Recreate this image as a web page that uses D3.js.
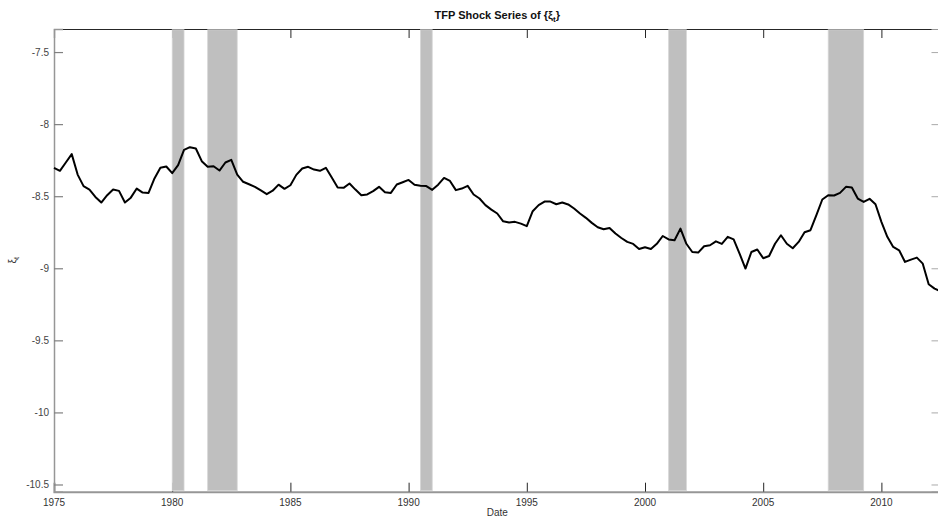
<!DOCTYPE html>
<html>
<head>
<meta charset="utf-8">
<script src="https://cdn.jsdelivr.net/npm/d3@7"></script>
<style>
  body { margin: 0; background: #fff; }
  text { font-family: "Liberation Sans", Arial, Helvetica, sans-serif; }
</style>
</head>
<body>
<svg id="chart" width="938" height="523"></svg>
<script>
// quarterly series, 1975Q1 onward
var startYear = 1975;
var xi = [
  -8.303, -8.324, -8.266, -8.208, -8.350, -8.430, -8.454, -8.505, -8.544, -8.493,
  -8.454, -8.463, -8.544, -8.510, -8.447, -8.475, -8.477, -8.377, -8.303, -8.294,
  -8.340, -8.285, -8.178, -8.160, -8.169, -8.257, -8.296, -8.292, -8.322, -8.266,
  -8.248, -8.350, -8.400, -8.417, -8.435, -8.460, -8.486, -8.462, -8.420, -8.449,
  -8.424, -8.352, -8.308, -8.296, -8.315, -8.324, -8.303, -8.370, -8.440, -8.442,
  -8.412, -8.454, -8.493, -8.488, -8.465, -8.435, -8.472, -8.477, -8.419, -8.403,
  -8.387, -8.420, -8.428, -8.430, -8.456, -8.420, -8.373, -8.394, -8.458, -8.447,
  -8.428, -8.488, -8.516, -8.562, -8.593, -8.620, -8.674, -8.683, -8.678, -8.690,
  -8.708, -8.604, -8.562, -8.537, -8.537, -8.556, -8.544, -8.557, -8.585, -8.620,
  -8.650, -8.685, -8.715, -8.729, -8.720, -8.759, -8.790, -8.817, -8.831, -8.866,
  -8.854, -8.866, -8.830, -8.776, -8.800, -8.806, -8.725, -8.830, -8.887, -8.891,
  -8.847, -8.840, -8.813, -8.831, -8.782, -8.800, -8.898, -9.002, -8.887, -8.870,
  -8.930, -8.915, -8.830, -8.771, -8.830, -8.861, -8.817, -8.750, -8.736, -8.632,
  -8.523, -8.493, -8.495, -8.477, -8.435, -8.440, -8.516, -8.540, -8.518, -8.556,
  -8.678, -8.782, -8.852, -8.875, -8.956, -8.940, -8.926, -8.968, -9.111, -9.141,
  -9.160
];
var recStart = [1980.0, 1981.5, 1990.5, 2001.0, 2007.75];
var recEnd   = [1980.5, 1982.75, 1991.0, 2001.75, 2009.25];
var xTicks = [1975, 1980, 1985, 1990, 1995, 2000, 2005, 2010];
var yTicks = [-10.5, -10, -9.5, -9, -8.5, -8, -7.5];

var svg = d3.select("#chart");
var padL = 54, padR = 940.5, padT = 29, padB = 491.7;

var x = d3.scaleLinear().domain([1975, 2012.5]).range([padL, padR]);
var y = d3.scaleLinear().domain([-10.55, -7.34]).range([padB, padT]);

var data = xi.map(function(v, i){ return {date: startYear + i * 0.25, value: v}; });

// top axis (ticks pointing in)
var topAxis = svg.append("g").attr("transform", "translate(0," + padT + ")")
  .call(d3.axisBottom(x).tickValues(xTicks).tickSize(9).tickFormat(""));
topAxis.select(".domain").attr("stroke", "#262626").attr("stroke-width", 1.2);
topAxis.selectAll(".tick line").attr("stroke", "#262626");

// bottom axis
var bottomAxis = svg.append("g").attr("transform", "translate(0," + padB + ")")
  .call(d3.axisTop(x).tickValues(xTicks).tickSize(9).tickFormat(""));
bottomAxis.select(".domain").attr("stroke", "#969696").attr("stroke-width", 2);
bottomAxis.selectAll(".tick line").attr("stroke", "#262626");
svg.append("g").selectAll("text").data(xTicks).enter().append("text")
  .attr("x", function(d){ return x(d); })
  .attr("y", padB + 14)
  .attr("text-anchor", "middle")
  .attr("font-size", 10)
  .attr("fill", "#333")
  .text(function(d){ return d; });

// recession bars sit over the tick marks, between the frame lines
svg.append("g").selectAll("rect").data(recStart).enter().append("rect")
  .attr("x", function(d){ return x(d); })
  .attr("width", function(d, i){ return x(recEnd[i]) - x(d); })
  .attr("y", padT + 0.8)
  .attr("height", padB - padT - 1.8)
  .attr("fill", "#bfbfbf")
  .attr("stroke", "#d6d6d6")
  .attr("stroke-width", 0.8);

// left axis
var leftAxis = svg.append("g").attr("transform", "translate(" + padL + ",0)")
  .call(d3.axisRight(y).tickValues(yTicks).tickSize(9).tickFormat(""));
leftAxis.select(".domain").attr("stroke", "#969696").attr("stroke-width", 1.5);
leftAxis.selectAll(".tick line").attr("stroke", "#808080").attr("stroke-width", 1.2);
svg.append("g").selectAll("text").data(yTicks).enter().append("text")
  .attr("x", padL - 5)
  .attr("y", function(d){ return y(d) + 3.5; })
  .attr("text-anchor", "end")
  .attr("font-size", 10)
  .attr("fill", "#444")
  .text(function(d){ return d; });

// right axis (mostly off screen)
var rightAxis = svg.append("g").attr("transform", "translate(" + padR + ",0)")
  .call(d3.axisLeft(y).tickValues(yTicks).tickSize(9).tickFormat(""));
rightAxis.select(".domain").attr("stroke", "#969696");
rightAxis.selectAll(".tick line").attr("stroke", "#aaa");

// series
var line = d3.line().x(function(d){ return x(d.date); }).y(function(d){ return y(d.value); });
svg.append("path").datum(data)
  .attr("d", line)
  .attr("fill", "none")
  .attr("stroke", "#000")
  .attr("stroke-width", 2)
  .attr("stroke-linejoin", "round");

// title and labels
var title = svg.append("text")
  .attr("x", (padL + padR) / 2)
  .attr("y", 19)
  .attr("text-anchor", "middle")
  .attr("font-size", 11)
  .attr("font-weight", "bold")
  .attr("fill", "#111");
title.append("tspan").text("TFP Shock Series of {\u03BE");
title.append("tspan").attr("font-size", 8).attr("dy", 3).text("t");
title.append("tspan").attr("dy", -3).text("}");

svg.append("text")
  .attr("x", (padL + padR) / 2)
  .attr("y", 516)
  .attr("text-anchor", "middle")
  .attr("font-size", 10)
  .attr("fill", "#333")
  .text("Date");

var ylab = svg.append("text")
  .attr("transform", "translate(16," + ((padT + padB) / 2) + ") rotate(-90)")
  .attr("text-anchor", "middle")
  .attr("font-size", 10)
  .attr("fill", "#333");
ylab.append("tspan").text("\u03BE");
ylab.append("tspan").attr("font-size", 7).attr("dy", 3).text("t");
</script>
</body>
</html>
